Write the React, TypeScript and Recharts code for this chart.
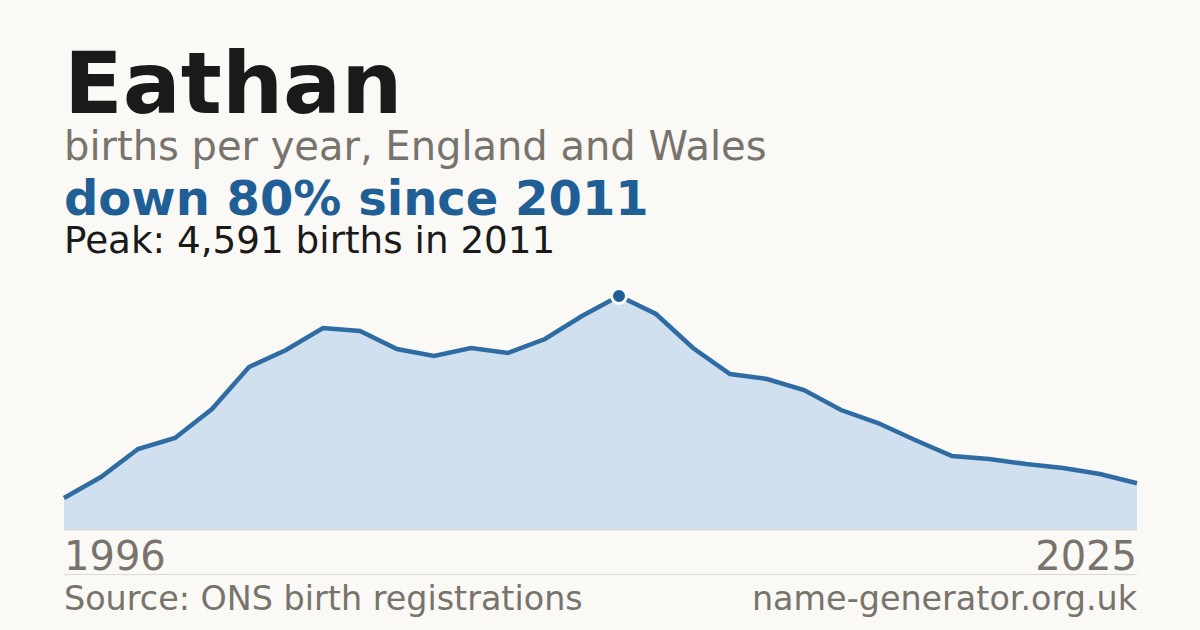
import React from "react";
import { AreaChart, Area, XAxis, YAxis, ReferenceDot, ReferenceLine } from "recharts";

const years = [1996,1997,1998,1999,2000,2001,2002,2003,2004,2005,2006,2007,2008,2009,2010,2011,2012,2013,2014,2015,2016,2017,2018,2019,2020,2021,2022,2023,2024,2025];
const births = [628,1040,1589,1805,2374,3198,3532,3963,3904,3551,3414,3571,3473,3747,4199,4591,4238,3571,3061,2963,2747,2354,2099,1766,1452,1393,1295,1216,1099,918];
const peakYear = 2011;
const peakValue = 4591;
const tickYears = [1996, 2025];

const data = years.map((y, i) => ({ year: y, births: births[i] }));

const FONT = "'DejaVu Sans', sans-serif";
const GRAY = "#78736c";

const Tick = (props: any) => {
  const { x, payload } = props;
  const first = payload.value === tickYears[0];
  return (
    <text x={x} y={570} textAnchor={first ? "start" : "end"} fontFamily={FONT} fontSize={40} fill={GRAY}>
      {payload.value}
    </text>
  );
};

export default function App() {
  return (
    <div style={{ position: "absolute", left: 0, top: 0, width: 1200, height: 630, background: "#faf9f5", overflow: "hidden" }}>
      <div style={{ position: "absolute", left: 0, top: 0 }}>
        <AreaChart width={1200} height={630} data={data} margin={{ top: 296, right: 63, bottom: 0, left: 64 }}>
          <XAxis dataKey="year" type="number" domain={[1996, 2025]} ticks={tickYears} tick={<Tick />} axisLine={false} tickLine={false} height={100} />
          <YAxis hide domain={[0, peakValue]} />
          <Area type="linear" dataKey="births" stroke="#2e6ca3" strokeWidth={4.5} fill="#d0e0ef" fillOpacity={1} isAnimationActive={false} />
          <ReferenceLine y={0} stroke="#dcdad4" strokeWidth={1} />
          <ReferenceDot x={peakYear} y={peakValue} r={7.5} fill="#1f5f96" stroke="#ffffff" strokeWidth={3} />
        </AreaChart>
      </div>
      <svg width={1200} height={630} style={{ position: "absolute", left: 0, top: 0, pointerEvents: "none" }}>
        <text x={64} y={113} fontFamily={FONT} fontWeight="bold" fontSize={86} fill="#1a1a1a">Eathan</text>
        <text x={64} y={160} fontFamily={FONT} fontSize={40} fill={GRAY}>births per year, England and Wales</text>
        <text x={64} y={215} fontFamily={FONT} fontWeight="bold" fontSize={48} fill="#1f5f96">down 80% since 2011</text>
        <text x={64} y={253} fontFamily={FONT} fontSize={37.3} fill="#1a1a1a">Peak: 4,591 births in 2011</text>
        <line x1={64} x2={1137} y1={574.5} y2={574.5} stroke="#dcdad4" strokeWidth={1} />
        <text x={64} y={610} fontFamily={FONT} fontSize={33.4} fill={GRAY}>Source: ONS birth registrations</text>
        <text x={1137} y={610} textAnchor="end" fontFamily={FONT} fontSize={33.4} fill={GRAY}>name-generator.org.uk</text>
      </svg>
    </div>
  );
}
